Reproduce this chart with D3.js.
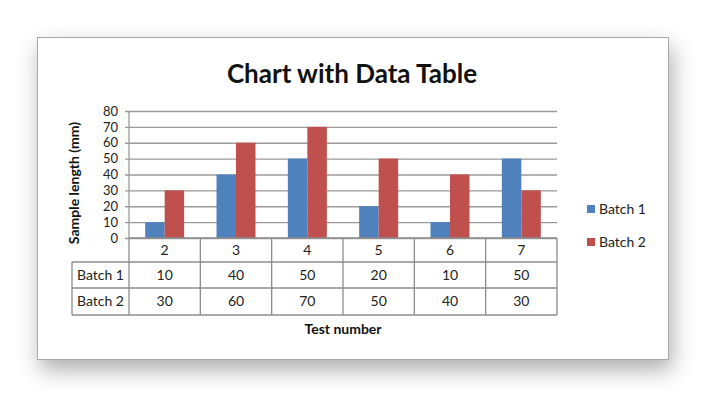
<!DOCTYPE html>
<html>
<head>
<meta charset="utf-8">
<script src="https://cdn.jsdelivr.net/npm/d3@7"></script>
<style>
  html, body { margin: 0; padding: 0; background: #fff; }
  svg { display: block; font-family: Lato, "Open Sans", sans-serif; }
</style>
</head>
<body>
<div id="chart"></div>
<script>
"use strict";

const categories = ["2", "3", "4", "5", "6", "7"];
const seriesNames = ["Batch 1", "Batch 2"];
const batch1 = [10, 40, 50, 20, 10, 50];
const batch2 = [30, 60, 70, 50, 40, 30];
const yTicks = [0, 10, 20, 30, 40, 50, 60, 70, 80];
const colors = ["#4f81bd", "#c0504d"];

const W = 720;
const H = 410;
const PLOT_LEFT = 129;
const PLOT_RIGHT = 557;
const PLOT_TOP = 111;
const PLOT_BOTTOM = 238;
const ROW_H = [24, 26, 27];
const HEAD_LEFT = 72;

let svg = d3.select("#chart").append("svg")
    .attr("width", W)
    .attr("height", H);

// soft drop shadow under the frame
let defs = svg.append("defs");
let shadow = defs.append("filter")
    .attr("id", "shadow")
    .attr("x", "-10%").attr("y", "-15%")
    .attr("width", "125%").attr("height", "140%");
shadow.append("feDropShadow")
    .attr("dx", 3).attr("dy", 10)
    .attr("stdDeviation", 11)
    .attr("flood-color", "#000")
    .attr("flood-opacity", 0.32);

svg.append("rect")
    .attr("x", 37.5).attr("y", 37.5)
    .attr("width", 631).attr("height", 322)
    .attr("fill", "#fff")
    .attr("stroke", "#a8a8a8")
    .attr("filter", "url(#shadow)");

svg.append("text")
    .attr("x", 352).attr("y", 83)
    .attr("text-anchor", "middle")
    .attr("font-size", 26)
    .attr("font-weight", "bold")
    .attr("fill", "#111")
    .text("Chart with Data Table");

let xscale = d3.scaleBand()
    .domain(categories)
    .range([PLOT_LEFT, PLOT_RIGHT]);

let inner = d3.scaleBand()
    .domain(seriesNames)
    .range([0, xscale.bandwidth()])
    .paddingOuter(0.83);

let yscale = d3.scaleLinear()
    .domain([0, 80])
    .range([PLOT_BOTTOM, PLOT_TOP]);

// gridlines + y labels
let yaxis = svg.append("g")
    .attr("transform", `translate(${PLOT_LEFT},0)`)
    .call(d3.axisLeft(yscale)
        .tickValues(yTicks)
        .tickSize(-(PLOT_RIGHT - PLOT_LEFT))
        .tickSizeOuter(0)
        .tickPadding(11));
yaxis.select(".domain").remove();
yaxis.selectAll(".tick line")
    .attr("x1", -4)
    .attr("stroke", "#9a9a9a")
    .attr("stroke-width", 1.3);
yaxis.selectAll(".tick text")
    .attr("font-family", "Lato, sans-serif")
    .attr("font-size", 13)
    .attr("fill", "#222");

svg.append("line")
    .attr("x1", PLOT_LEFT).attr("x2", PLOT_LEFT)
    .attr("y1", PLOT_TOP).attr("y2", PLOT_BOTTOM)
    .attr("stroke", "#9a9a9a")
    .attr("stroke-width", 1.3);

// bars
let series = [batch1, batch2];
series.forEach((vals, s) => {
    svg.append("g")
        .selectAll("rect")
        .data(vals)
        .join("rect")
        .attr("x", (d, i) => xscale(categories[i]) + inner(seriesNames[s]))
        .attr("width", inner.bandwidth())
        .attr("y", d => yscale(d))
        .attr("height", d => yscale(0) - yscale(d))
        .attr("fill", colors[s]);
});

// data table
let table = svg.append("g")
    .attr("font-size", 14)
    .attr("fill", "#222");
const rowTop = [PLOT_BOTTOM, PLOT_BOTTOM + ROW_H[0], PLOT_BOTTOM + ROW_H[0] + ROW_H[1]];
const tableBottom = rowTop[2] + ROW_H[2];
const grid = "#8c8c8c";

// horizontal lines
table.append("line")
    .attr("x1", PLOT_LEFT).attr("x2", PLOT_RIGHT)
    .attr("y1", PLOT_BOTTOM).attr("y2", PLOT_BOTTOM)
    .attr("stroke", grid).attr("stroke-width", 1.3);
[rowTop[1], rowTop[2], tableBottom].forEach(y => {
    table.append("line")
        .attr("x1", HEAD_LEFT).attr("x2", PLOT_RIGHT)
        .attr("y1", y).attr("y2", y)
        .attr("stroke", grid).attr("stroke-width", 1.3);
});
// vertical lines
table.append("line")
    .attr("x1", HEAD_LEFT).attr("x2", HEAD_LEFT)
    .attr("y1", rowTop[1]).attr("y2", tableBottom)
    .attr("stroke", grid).attr("stroke-width", 1.3);
categories.forEach(c => {
    table.append("line")
        .attr("x1", xscale(c)).attr("x2", xscale(c))
        .attr("y1", PLOT_BOTTOM).attr("y2", tableBottom)
        .attr("stroke", grid).attr("stroke-width", 1.3);
});
table.append("line")
    .attr("x1", PLOT_RIGHT).attr("x2", PLOT_RIGHT)
    .attr("y1", PLOT_BOTTOM).attr("y2", tableBottom)
    .attr("stroke", grid).attr("stroke-width", 1.3);

// category row
table.selectAll(".cat")
    .data(categories)
    .join("text")
    .attr("class", "cat")
    .attr("x", d => xscale(d) + xscale.bandwidth() / 2)
    .attr("y", rowTop[0] + ROW_H[0] / 2)
    .attr("dy", "0.35em")
    .attr("text-anchor", "middle")
    .text(d => d);

series.forEach((vals, s) => {
    let yc = rowTop[s + 1] + ROW_H[s + 1] / 2;
    table.append("text")
        .attr("x", (HEAD_LEFT + PLOT_LEFT) / 2)
        .attr("y", yc)
        .attr("dy", "0.35em")
        .attr("text-anchor", "middle")
        .text(seriesNames[s]);
    table.append("g")
        .selectAll("text")
        .data(vals)
        .join("text")
        .attr("x", (d, i) => xscale(categories[i]) + xscale.bandwidth() / 2)
        .attr("y", yc)
        .attr("dy", "0.35em")
        .attr("text-anchor", "middle")
        .text(d => d);
});

// axis titles
svg.append("text")
    .attr("x", (PLOT_LEFT + PLOT_RIGHT) / 2)
    .attr("y", 334)
    .attr("text-anchor", "middle")
    .attr("font-size", 14)
    .attr("font-weight", "bold")
    .attr("fill", "#111")
    .text("Test number");

svg.append("text")
    .attr("transform", "translate(79,183) rotate(-90)")
    .attr("text-anchor", "middle")
    .attr("font-size", 14)
    .attr("font-weight", "bold")
    .attr("fill", "#111")
    .text("Sample length (mm)");

// legend
let legend = svg.append("g")
    .selectAll("g")
    .data(seriesNames)
    .join("g")
    .attr("transform", (d, i) => `translate(587,${205 + i * 33})`);
legend.append("rect")
    .attr("width", 8).attr("height", 8)
    .attr("fill", (d, i) => colors[i]);
legend.append("text")
    .attr("x", 12).attr("y", 4)
    .attr("dy", "0.35em")
    .attr("font-size", 14)
    .attr("fill", "#222")
    .text(d => d);
</script>
</body>
</html>
